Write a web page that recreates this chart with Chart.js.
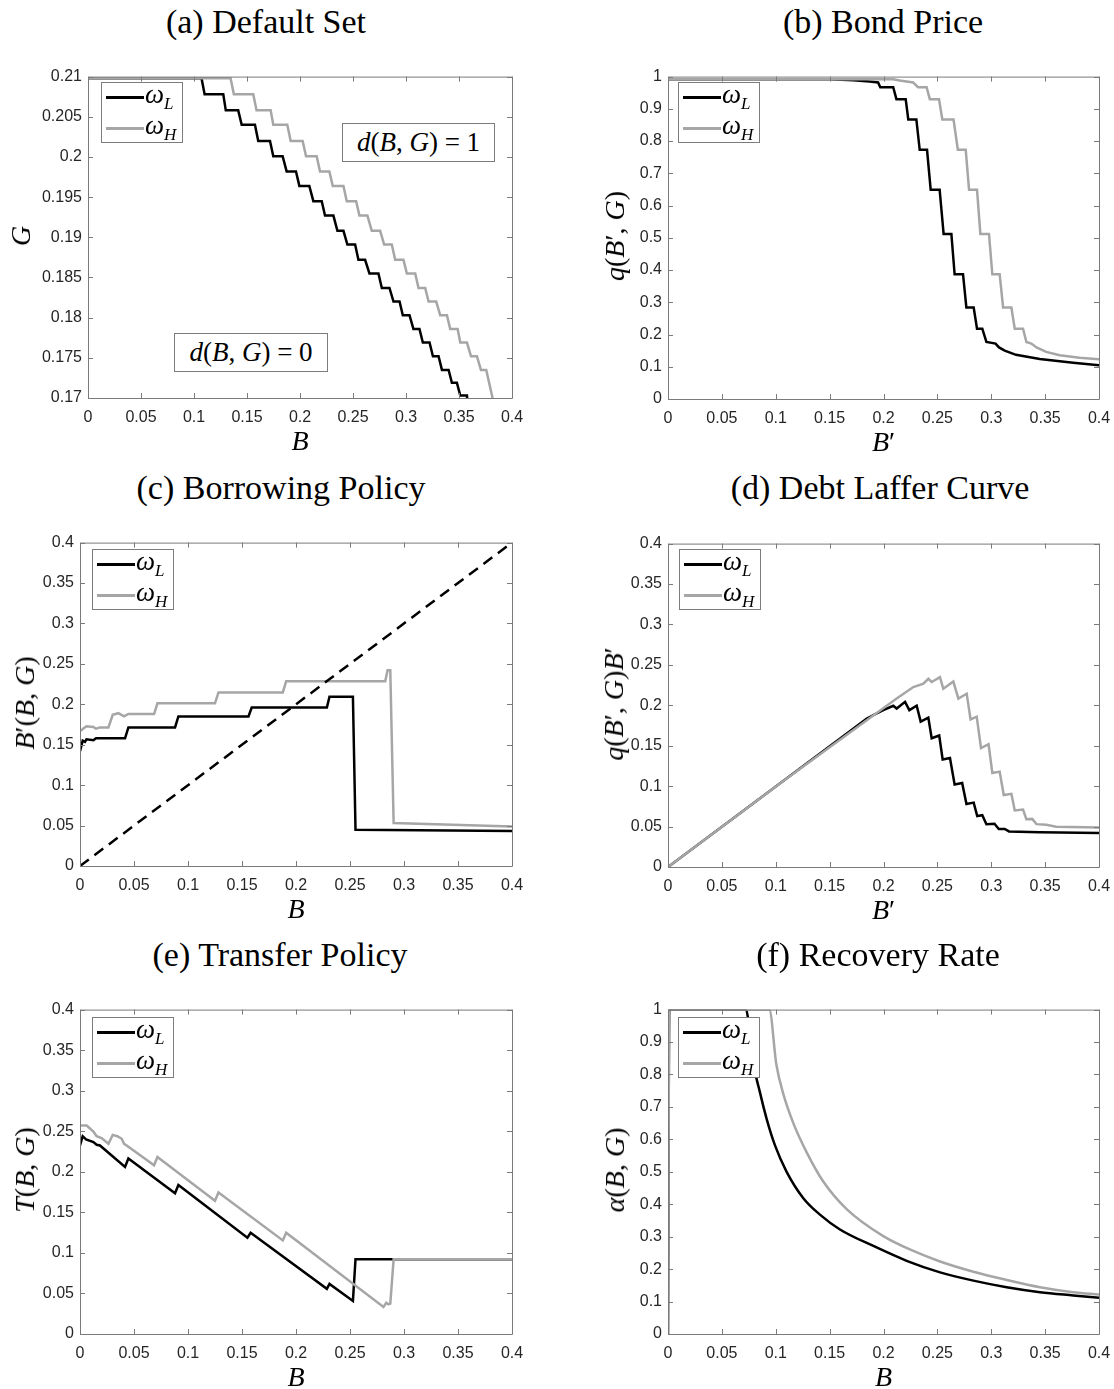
<!DOCTYPE html>
<html>
<head>
<meta charset="utf-8">
<script src="https://cdn.jsdelivr.net/npm/chart.js@4.4.1/dist/chart.umd.min.js"></script>
<style>
body { margin: 0; width: 1114px; height: 1389px; position: relative; background: #fff; overflow: hidden; font-family: "Liberation Serif", serif; color: #000; }
canvas { position: absolute; }
.title { position: absolute; font-size: 34px; white-space: nowrap; transform: translate(-50%, -50%); }
.xlab, .ylab { position: absolute; font-size: 28px; white-space: nowrap; line-height: 1; }
.xlab { transform: translate(-50%, -50%); }
.ylab { transform: translate(-50%, -50%) rotate(-90deg); }
.leg { position: absolute; width: 82px; height: 61px; background: #fff; border: 1px solid #7c7c7c; box-sizing: border-box; }
.leg .ln { position: absolute; left: 4px; width: 38px; height: 3px; }
.leg .tx { position: absolute; left: 43px; font-size: 27px; line-height: 1; white-space: nowrap; }
.leg sub { font-size: 17px; vertical-align: -6px; }
.note { position: absolute; height: 39px; background: #fff; border: 1px solid #7c7c7c; box-sizing: border-box; font-size: 27px; line-height: 37px; text-align: center; white-space: nowrap; }
</style>
</head>
<body>
<script>
// (a) default set: boundary G for each B
const aLx = [0, 0.1071, 0.110, 0.1276, 0.130, 0.1417, 0.145, 0.1575, 0.1606, 0.1717, 0.1748, 0.1836, 0.1874, 0.1962, 0.1994, 0.2088, 0.2126, 0.2205, 0.2236, 0.2315, 0.2353, 0.241, 0.2447, 0.252, 0.2551, 0.2614, 0.2655, 0.274, 0.2772, 0.2844, 0.2882, 0.2939, 0.297, 0.3033, 0.307, 0.3127, 0.3159, 0.3222, 0.3254, 0.3307, 0.3339, 0.3402, 0.3433, 0.348, 0.3512, 0.3575, 0.3585];
const aLy = [0.2098, 0.2098, 0.2078, 0.2078, 0.2058, 0.2058, 0.2040, 0.2040, 0.2020, 0.2020, 0.2001, 0.2001, 0.1982, 0.1982, 0.1964, 0.1964, 0.1945, 0.1945, 0.1927, 0.1927, 0.1908, 0.1908, 0.1891, 0.1891, 0.1872, 0.1872, 0.1855, 0.1855, 0.1837, 0.1837, 0.1820, 0.1820, 0.1803, 0.1803, 0.1786, 0.1786, 0.1769, 0.1769, 0.1752, 0.1752, 0.1735, 0.1735, 0.1719, 0.1719, 0.1703, 0.1703, 0.1685];
const aHx = [0, 0.1345, 0.1376, 0.1559, 0.159, 0.1723, 0.1748, 0.188, 0.1912, 0.2025, 0.2057, 0.2157, 0.2189, 0.2277, 0.2309, 0.241, 0.2441, 0.2529, 0.2561, 0.2636, 0.2677, 0.2756, 0.2794, 0.2866, 0.2898, 0.2976, 0.3008, 0.3087, 0.3118, 0.3181, 0.3213, 0.3285, 0.3323, 0.3386, 0.3417, 0.3487, 0.3512, 0.3575, 0.3613, 0.3669, 0.3707, 0.3757, 0.382];
const aHy = [0.2098, 0.2098, 0.2078, 0.2078, 0.2058, 0.2058, 0.2040, 0.2040, 0.2020, 0.2020, 0.2001, 0.2001, 0.1982, 0.1982, 0.1964, 0.1964, 0.1945, 0.1945, 0.1927, 0.1927, 0.1908, 0.1908, 0.1891, 0.1891, 0.1872, 0.1872, 0.1855, 0.1855, 0.1837, 0.1837, 0.1820, 0.1820, 0.1803, 0.1803, 0.1786, 0.1786, 0.1769, 0.1769, 0.1752, 0.1752, 0.1735, 0.1735, 0.1698];

// (b) bond price
const bLx = [0, 0.15, 0.172, 0.187, 0.195, 0.197, 0.209, 0.212, 0.2206, 0.223, 0.2305, 0.2336, 0.2404, 0.2438, 0.2521, 0.2558, 0.263, 0.266, 0.2738, 0.2769, 0.2837, 0.2868, 0.2917, 0.2955, 0.304, 0.3072, 0.3125, 0.323, 0.345, 0.376, 0.4];
const bLy = [0.992, 0.992, 0.989, 0.985, 0.982, 0.967, 0.967, 0.930, 0.930, 0.867, 0.867, 0.773, 0.773, 0.649, 0.649, 0.512, 0.512, 0.387, 0.387, 0.284, 0.284, 0.218, 0.218, 0.177, 0.172, 0.160, 0.150, 0.137, 0.124, 0.1125, 0.105];
const bHx = [0, 0.209, 0.215, 0.2275, 0.232, 0.240, 0.243, 0.2515, 0.2546, 0.265, 0.269, 0.2763, 0.2794, 0.2868, 0.2899, 0.2979, 0.301, 0.3078, 0.311, 0.3187, 0.3218, 0.3295, 0.3326, 0.3372, 0.342, 0.351, 0.3635, 0.382, 0.4];
const bHy = [0.992, 0.992, 0.988, 0.982, 0.967, 0.967, 0.930, 0.930, 0.867, 0.867, 0.773, 0.773, 0.649, 0.649, 0.512, 0.512, 0.387, 0.387, 0.284, 0.284, 0.218, 0.218, 0.177, 0.172, 0.160, 0.146, 0.136, 0.128, 0.123];

// (c) borrowing policy
const cLx = [0, 0.0025, 0.0046, 0.006, 0.0124, 0.0148, 0.0417, 0.0448, 0.088, 0.0911, 0.156, 0.159, 0.2286, 0.231, 0.2527, 0.2551, 0.4];
const cLy = [0.142, 0.155, 0.1535, 0.1567, 0.1555, 0.158, 0.158, 0.1714, 0.1714, 0.1849, 0.1849, 0.1959, 0.1959, 0.2094, 0.2094, 0.0449, 0.0433];
const cHx = [0, 0.0037, 0.006, 0.0124, 0.0148, 0.0185, 0.0263, 0.0303, 0.0355, 0.0408, 0.0448, 0.0686, 0.0717, 0.125, 0.1282, 0.1878, 0.1909, 0.2826, 0.2848, 0.2873, 0.2904, 0.4];
const cHy = [0.1665, 0.1706, 0.1727, 0.172, 0.1698, 0.1714, 0.1714, 0.187, 0.189, 0.185, 0.188, 0.188, 0.2012, 0.2012, 0.2147, 0.2147, 0.2286, 0.2286, 0.242, 0.242, 0.0531, 0.049];
const cDx = [0, 0.4];
const cDy = [0, 0.4];

// (d) debt laffer curve
const dLx = [0, 0.1845, 0.1998, 0.2091, 0.2122, 0.22, 0.224, 0.2308, 0.2345, 0.2416, 0.2447, 0.2517, 0.2549, 0.2617, 0.266, 0.273, 0.277, 0.2837, 0.287, 0.2917, 0.2955, 0.303, 0.307, 0.3125, 0.3165, 0.345, 0.4];
const dLy = [0, 0.1837, 0.194, 0.1994, 0.196, 0.2043, 0.194, 0.1994, 0.1798, 0.1847, 0.1593, 0.1627, 0.133, 0.1349, 0.102, 0.104, 0.078, 0.0796, 0.063, 0.064, 0.053, 0.0535, 0.047, 0.047, 0.044, 0.0429, 0.042];
const dHx = [0, 0.107, 0.2122, 0.2277, 0.237, 0.2416, 0.2447, 0.2524, 0.2555, 0.2648, 0.2695, 0.2772, 0.2808, 0.2865, 0.2905, 0.2975, 0.301, 0.3078, 0.3116, 0.3187, 0.3218, 0.3295, 0.3326, 0.338, 0.342, 0.351, 0.3604, 0.4];
const dHy = [0, 0.1064, 0.2083, 0.2226, 0.2267, 0.2328, 0.2288, 0.2349, 0.2205, 0.2295, 0.2083, 0.2144, 0.1825, 0.1859, 0.147, 0.152, 0.1163, 0.118, 0.089, 0.0905, 0.070, 0.071, 0.0592, 0.0595, 0.053, 0.0522, 0.0498, 0.049];

// (e) transfer policy
const eLx = [0, 0.0025, 0.0056, 0.0124, 0.0154, 0.0185, 0.0417, 0.0448, 0.088, 0.0911, 0.155, 0.158, 0.2286, 0.231, 0.2527, 0.2551, 0.4];
const eLy = [0.2325, 0.2439, 0.24, 0.2366, 0.2333, 0.2325, 0.206, 0.2163, 0.1736, 0.1837, 0.1187, 0.1248, 0.0557, 0.0618, 0.0407, 0.0923, 0.0923];
const eHx = [0, 0.0062, 0.0124, 0.0154, 0.02, 0.0263, 0.0303, 0.0346, 0.0386, 0.0408, 0.0432, 0.0686, 0.0717, 0.125, 0.1282, 0.1878, 0.1909, 0.281, 0.2836, 0.2857, 0.2873, 0.2904, 0.4];
const eHy = [0.257, 0.257, 0.2496, 0.2439, 0.2415, 0.2345, 0.2455, 0.2439, 0.2407, 0.2345, 0.2325, 0.208, 0.2183, 0.1642, 0.1744, 0.1154, 0.1248, 0.0333, 0.0386, 0.0366, 0.0374, 0.0923, 0.0923];

// (f) recovery rate
const fLx = [0, 0.0012, 0.0724, 0.0745, 0.0768, 0.0854, 0.0916, 0.0993, 0.1101, 0.1256, 0.141, 0.1596, 0.1906, 0.2215, 0.2525, 0.2834, 0.3143, 0.3452, 0.3761, 0.4];
const fLy = [0, 1, 1, 0.967, 0.881, 0.744, 0.6626, 0.5814, 0.5, 0.4187, 0.368, 0.3223, 0.2713, 0.2256, 0.19, 0.1646, 0.1443, 0.129, 0.119, 0.1118];
const fHx = [0, 0.0012, 0.094, 0.1006, 0.107, 0.1163, 0.1287, 0.1441, 0.1658, 0.1998, 0.2277, 0.2525, 0.2834, 0.3143, 0.3452, 0.3761, 0.4];
const fHy = [0, 1, 1, 0.83, 0.74, 0.65, 0.56, 0.47, 0.385, 0.3018, 0.256, 0.2236, 0.192, 0.1667, 0.1443, 0.129, 0.122];

const xTicksStep = 0.05;

const BLACK = '#000000';
const GRAY = '#a6a6a6';
const AXIS = '#7a7a7a';
const TXT = '#262626';
// right pad must cover half of the last tick label plus tick padding
const PAD_L = 70, PAD_R = 24, PAD_T = 12, PAD_B = 32;

const wL = '<i>ω</i><sub><i>L</i></sub>';
const wH = '<i>ω</i><sub><i>H</i></sub>';

const panels = [
    { title: '(a) Default Set', area: [88, 73, 512, 398], y: [0.17, 0.21, 0.005], t: [266, 22],
      xl: '<i>B</i>', yl: '<i>G</i>', ylx: 21, leg: [101, 82],
      low: [aLx, aLy], high: [aHx, aHy] },
    { title: '(b) Bond Price', area: [668, 73, 1099, 399], y: [0, 1, 0.1], t: [883, 22],
      xl: '<i>B</i>′', yl: '<i>q</i>(<i>B</i>′, <i>G</i>)', ylx: 615, leg: [678, 82],
      low: [bLx, bLy], high: [bHx, bHy] },
    { title: '(c) Borrowing Policy', area: [80, 539, 512, 866], y: [0, 0.4, 0.05], t: [281, 488],
      xl: '<i>B</i>', yl: '<i>B</i>′(<i>B</i>, <i>G</i>)', ylx: 25, leg: [92, 549],
      low: [cLx, cLy], high: [cHx, cHy], diag: [cDx, cDy] },
    { title: '(d) Debt Laffer Curve', area: [668, 540, 1099, 867], y: [0, 0.4, 0.05], t: [880, 488],
      xl: '<i>B</i>′', yl: '<i>q</i>(<i>B</i>′, <i>G</i>)<i>B</i>′', ylx: 614, leg: [679, 549],
      low: [dLx, dLy], high: [dHx, dHy] },
    { title: '(e) Transfer Policy', area: [80, 1006, 512, 1334], y: [0, 0.4, 0.05], t: [280, 955],
      xl: '<i>B</i>', yl: '<i>T</i>(<i>B</i>, <i>G</i>)', ylx: 25, leg: [92, 1017],
      low: [eLx, eLy], high: [eHx, eHy] },
    { title: '(f) Recovery Rate', area: [668, 1006, 1099, 1334], y: [0, 1, 0.1], t: [878, 955],
      xl: '<i>B</i>', yl: '<i>α</i>(<i>B</i>, <i>G</i>)', ylx: 615, leg: [678, 1017],
      low: [fLx, fLy], high: [fHx, fHy], smooth: true }
];

function pts(xs, ys) {
    return xs.map((x, i) => ({ x, y: ys[i] }));
}

function fmt(v) {
    return String(+v.toFixed(4));
}

function addDiv(cls, html, css) {
    const d = document.createElement('div');
    d.className = cls;
    d.innerHTML = html;
    Object.assign(d.style, css);
    document.body.appendChild(d);
    return d;
}

// matlab style box with inward ticks on all four sides
const boxPlugin = {
    id: 'mbox',
    afterDatasetsDraw(chart) {
        const { ctx, chartArea: a, scales: { x, y } } = chart;
        ctx.save();
        ctx.strokeStyle = AXIS;
        ctx.lineWidth = 1;
        ctx.beginPath();
        x.ticks.forEach(t => {
            const px = Math.round(x.getPixelForValue(t.value)) + 0.5;
            ctx.moveTo(px, a.bottom); ctx.lineTo(px, a.bottom - 5);
            ctx.moveTo(px, a.top); ctx.lineTo(px, a.top + 5);
        });
        y.ticks.forEach(t => {
            const py = Math.round(y.getPixelForValue(t.value)) + 0.5;
            ctx.moveTo(a.left, py); ctx.lineTo(a.left + 5, py);
            ctx.moveTo(a.right, py); ctx.lineTo(a.right - 5, py);
        });
        ctx.rect(a.left + 0.5, a.top + 0.5, a.right - a.left, a.bottom - a.top);
        ctx.stroke();
        ctx.restore();
    }
};

const tickFont = { family: '"Liberation Sans", Arial, sans-serif', size: 16 };

panels.forEach(p => {
    const [l, t, r, b] = p.area;
    const cv = document.createElement('canvas');
    cv.width = PAD_L + (r - l) + PAD_R;
    cv.height = PAD_T + (b - t) + PAD_B;
    cv.style.left = (l - PAD_L) + 'px';
    cv.style.top = (t - PAD_T) + 'px';
    document.body.appendChild(cv);

    const datasets = [
        { data: pts(p.high[0], p.high[1]), borderColor: GRAY, order: 1 },
        { data: pts(p.low[0], p.low[1]), borderColor: BLACK, order: 2 }
    ];
    if (p.diag) {
        datasets.push({ data: pts(p.diag[0], p.diag[1]), borderColor: BLACK, borderDash: [11, 7], order: 0 });
    }

    new Chart(cv, {
        type: 'line',
        data: { datasets },
        options: {
            responsive: false,
            animation: false,
            devicePixelRatio: 1,
            layout: { padding: { left: 0, right: PAD_R, top: PAD_T, bottom: 0 } },
            plugins: { legend: { display: false }, tooltip: { enabled: false } },
            elements: {
                point: { radius: 0 },
                line: { borderWidth: 2.5, tension: 0, fill: false, cubicInterpolationMode: p.smooth ? 'monotone' : 'default' }
            },
            scales: {
                x: {
                    type: 'linear', min: 0, max: 0.4,
                    grid: { display: false, drawTicks: false }, border: { display: false },
                    ticks: { stepSize: xTicksStep, autoSkip: false, maxRotation: 0, padding: 10, color: TXT, font: tickFont, callback: fmt },
                    afterFit(s) { s.height = PAD_B; }
                },
                y: {
                    type: 'linear', min: p.y[0], max: p.y[1],
                    grid: { display: false, drawTicks: false }, border: { display: false },
                    ticks: { stepSize: p.y[2], autoSkip: false, padding: 6, color: TXT, font: tickFont, callback: fmt },
                    afterFit(s) { s.width = PAD_L; }
                }
            }
        },
        plugins: [boxPlugin]
    });

    addDiv('title', p.title, { left: p.t[0] + 'px', top: p.t[1] + 'px' });
    addDiv('xlab', p.xl, { left: ((l + r) / 2) + 'px', top: (b + 43) + 'px' });
    addDiv('ylab', p.yl, { left: p.ylx + 'px', top: ((t + b) / 2) + 'px' });

    const lg = addDiv('leg', '', { left: p.leg[0] + 'px', top: p.leg[1] + 'px' });
    [[BLACK, wL, 15], [GRAY, wH, 46]].forEach(([c, lab, yy]) => {
        const ln = document.createElement('div');
        ln.className = 'ln';
        ln.style.background = c;
        ln.style.top = (yy - 2) + 'px';
        lg.appendChild(ln);
        const tx = document.createElement('div');
        tx.className = 'tx';
        tx.innerHTML = lab;
        tx.style.top = (yy - 17) + 'px';
        lg.appendChild(tx);
    });
});

// region labels in (a)
addDiv('note', '<i>d</i>(<i>B</i>, <i>G</i>) = 1', { left: '342px', top: '123px', width: '153px' });
addDiv('note', '<i>d</i>(<i>B</i>, <i>G</i>) = 0', { left: '174px', top: '333px', width: '154px' });
</script>
</body>
</html>
